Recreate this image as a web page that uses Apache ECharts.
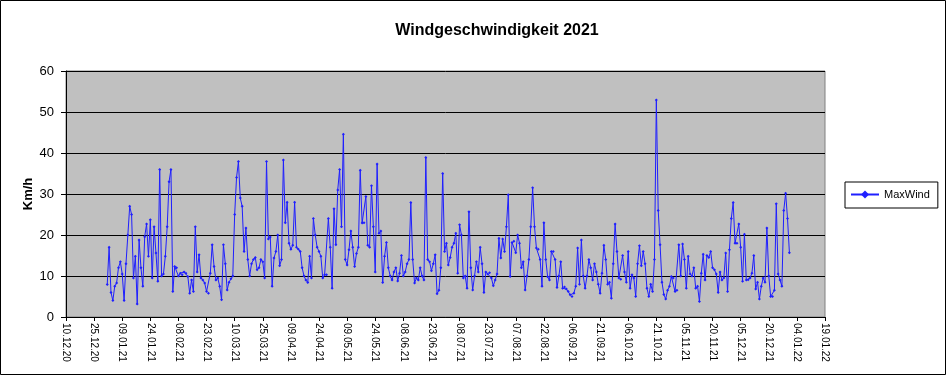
<!DOCTYPE html>
<html>
<head>
<meta charset="utf-8">
<script src="https://cdn.jsdelivr.net/npm/echarts@6/dist/echarts.min.js"></script>
<style>
html,body{margin:0;padding:0;background:#fff;}
#chart{width:946px;height:375px;}
</style>
</head>
<body>
<div id="chart"></div>
<script>
// ---- data ----
const titleText = 'Windgeschwindigkeit 2021';
const seriesName = 'MaxWind';
const yAxisName = 'Km/h';
const axisStart = '2020-12-10';   // first x tick
const dataStart = '2021-01-01';   // first daily value
const xTickLabels = ['10.12.20','25.12.20','09.01.21','24.01.21','08.02.21','23.02.21','10.03.21','25.03.21','09.04.21','24.04.21','09.05.21','24.05.21','08.06.21','23.06.21','08.07.21','23.07.21','07.08.21','22.08.21','06.09.21','21.09.21','06.10.21','21.10.21','05.11.21','20.11.21','05.12.21','20.12.21','04.01.22','19.01.22'];
const yTickValues = [0,10,20,30,40,50,60];

const maxWindJan = [7.9,17.0,6,4,7.5,8.3,12,13.5,10.5,4,13,20,27,25,9.5,14.8,3.2,18.8,12,7.5,19.6,22.7,14.8,23.7,9.5,22,15.6,8.7,36,10,10.5];
const maxWindFeb = [14.8,22,33,36,6.2,12.3,12,10,10.7,10.3,11,10.7,9.9,5.8,9,6.2,22,11,15.2,9.5,9,8.3,6.2,5.8,10.7,17.6,12.3,9];
const maxWindMar = [9.5,7.5,4.2,17.6,13,6.6,8.5,9.3,10,25,34,37.9,29,27,16,21.7,14,10,13,14,14.5,11.5,12,14,13.5,9.5,37.9,19,19.5,7.5,14.4];
const maxWindApr = [16,20,12.5,14,38.3,23,28,18,16.5,17.5,28,17,16.5,16,12,10,9,8.4,14.8,9.5,24,20,17,16,14.8,9.5,10.3,10.3,24,17];
const maxWindMay = [7,26.4,17.6,31,36,22,44.6,14,12.7,16.4,21,17,12.3,15.5,17,35.8,22.9,23,29.4,17.5,17,32,22,11,37.3,20.4,21,8.4,14.8,18.2,12];
const maxWindJun = [10,9,11,12,8.8,10.7,15,10,11,13,14,27.9,14,8.3,9.5,9,12,10,9,38.9,14,13.5,11.3,13,15.2,5.7,6.5,12,35,16];
const maxWindJul = [18,12.7,14.5,17,18,20.4,10.7,22.5,20,9.5,10,7,25.7,12,6.6,10,13.5,11,17,13,6,11,10.5,10.8,9.5,7.6,9,10.5,19.2,14.4,19];
const maxWindAug = [16,22,29.8,9.9,18.2,18.5,15.7,20,18,12,13.5,6.6,10,14,22,31.5,22,16.8,16.5,14,7.5,23,14,9.8,9,16,16,14,7.2,10,13.5];
const maxWindSep = [7,7.3,6.8,6.2,5.4,5,5.8,7.5,16.8,8,18.8,10,7,10,14,12,9,13,11,8,5.8,10.7,17.5,14,8,8.5,4.6,13,22.7,16];
const maxWindOct = [9.5,9.2,15,11,8.5,16,7,10.3,9.5,5,13,17.4,12.5,16,13,7,5,8,6.2,14,52.9,26,17.6,8.5,5.5,4.4,6.5,7.5,9.9,9.5,6.2];
const maxWindNov = [6.5,17.6,10,17.8,14,7,14.8,10.5,10,12,7,7.5,3.8,10.7,15.3,9,15,14.5,16,12,11.5,10.5,6,11,9,9.5,15.6,6.2,16.4,24];
const maxWindDec = [27.9,18,18,22.7,17,8.7,20.2,9,9.1,9.5,10.7,15,6.8,8.5,4.4,7.5,9.5,8.5,21.7,10,5,5,6.5,27.6,10.5,9,7.5,26,30.2,24,15.7];

const maxWind = [].concat(maxWindJan,maxWindFeb,maxWindMar,maxWindApr,maxWindMay,maxWindJun,
  maxWindJul,maxWindAug,maxWindSep,maxWindOct,maxWindNov,maxWindDec);

// ---- build ----
const DAY = 86400000;
const offset = Math.round((Date.parse(dataStart) - Date.parse(axisStart)) / DAY);
const seriesData = maxWind.map((v, i) => [offset + i, v]);
const tickStep = 15;
const axisMax = (xTickLabels.length - 1) * tickStep;

const FONT = '"Liberation Sans", Arial, sans-serif';
const chart = echarts.init(document.getElementById('chart'), null, {renderer: 'canvas'});
chart.setOption({
  animation: false,
  backgroundColor: '#ffffff',
  title: {
    text: titleText,
    left: 492, top: 18, textAlign: 'center',
    textStyle: {fontFamily: FONT, fontSize: 16, fontWeight: 'bold', color: '#000'}
  },
  legend: {
    data: [seriesName],
    left: 845, top: 182,
    orient: 'vertical',
    backgroundColor: '#ffffff',
    borderColor: '#000000', borderWidth: 1,
    padding: [7, 8, 8, 5],
    itemWidth: 28, itemHeight: 10, itemGap: 4,
    textStyle: {fontFamily: FONT, fontSize: 11, color: '#000'}
  },
  grid: {
    left: 66, right: 121, top: 71, bottom: 58,
    show: true, backgroundColor: '#c0c0c0',
    borderColor: '#808080', borderWidth: 1
  },
  xAxis: {
    type: 'value', min: 0, max: axisMax, interval: tickStep,
    axisLine: {show: true, onZero: false, lineStyle: {color: '#000', width: 1}},
    axisTick: {show: true, length: 4, lineStyle: {color: '#000'}},
    splitLine: {show: false},
    axisLabel: {
      rotate: -90, margin: 6, fontFamily: FONT, fontSize: 10, color: '#000',
      showMinLabel: true, showMaxLabel: true,
      formatter: v => xTickLabels[Math.round(v / tickStep)] || ''
    }
  },
  yAxis: {
    type: 'value', min: yTickValues[0], max: yTickValues[yTickValues.length-1], interval: 10,
    name: yAxisName, nameLocation: 'middle', nameRotate: 90, nameGap: 31,
    nameMoveOverlap: false,
    nameTextStyle: {fontFamily: FONT, fontSize: 13, fontWeight: 'bold', color: '#000'},
    axisLine: {show: true, lineStyle: {color: '#000', width: 1}},
    axisTick: {show: true, length: 5, lineStyle: {color: '#000'}},
    splitLine: {show: true, lineStyle: {color: '#000', width: 1}},
    axisLabel: {margin: 12, fontFamily: FONT, fontSize: 13, color: '#000'}
  },
  series: [{
    name: seriesName,
    type: 'line',
    data: seriesData,
    symbol: 'diamond', symbolSize: 3, showSymbol: true,
    lineStyle: {color: '#1f1fff', width: 1},
    itemStyle: {color: '#1f1fff'}
  }],
  graphic: [{
    type: 'rect', shape: {x: 0.5, y: 0.5, width: 945, height: 374},
    style: {fill: 'none', stroke: '#000', lineWidth: 1}, silent: true, z: 100
  }]
});
</script>
</body>
</html>
